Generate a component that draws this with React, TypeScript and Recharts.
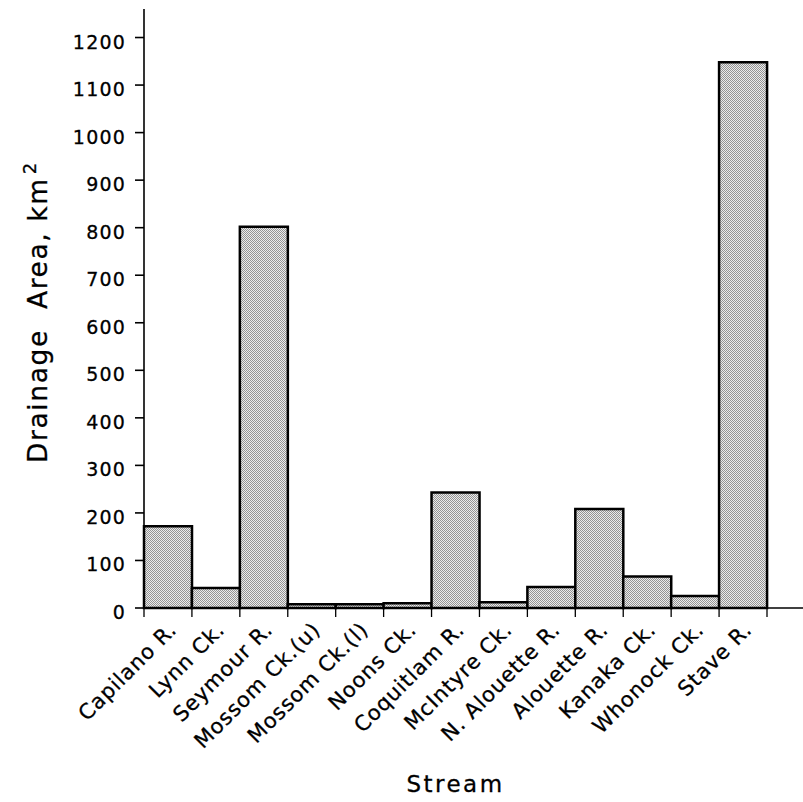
import React from 'react';
import { BarChart, Bar, XAxis, YAxis } from 'recharts';

const streams = [
  'Capilano R.', 'Lynn Ck.', 'Seymour R.', 'Mossom Ck.(u)', 'Mossom Ck.(l)', 'Noons Ck.',
  'Coquitlam R.', 'McIntyre Ck.', 'N. Alouette R.', 'Alouette R.', 'Kanaka Ck.', 'Whonock Ck.', 'Stave R.',
];
const areas = [172, 42, 802, 8, 8, 10, 243, 12, 44, 208, 66, 25, 1148];
const yTicks = [0, 100, 200, 300, 400, 500, 600, 700, 800, 900, 1000, 1100, 1200];

const data = streams.map((name, i) => ({ name, area: areas[i] }));

const FONT = '"DejaVu Sans", Verdana, sans-serif';

const YTick = (props: any) => {
  const { x, y, payload } = props;
  return (
    <text x={x + 1} y={y + 11} textAnchor="end" fontFamily={FONT} fontSize={19} letterSpacing={1.2} fill="#000" stroke="#000" strokeWidth={0.3}>
      {payload.value}
    </text>
  );
};

const XTick = (props: any) => {
  const { x, y, payload, index } = props;
  const off = payload && payload.offset ? payload.offset : 24;
  const last = index === streams.length - 1;
  return (
    <g>
      <line x1={x - off} y1={y} x2={x - off} y2={y + 9} stroke="#000" strokeWidth={1.3} />
      {last && <line x1={x + off} y1={y} x2={x + off} y2={y + 9} stroke="#000" strokeWidth={1.3} />}
      <text
        transform={`translate(${x + 10},${y + 23}) rotate(-45)`}
        textAnchor="end"
        fontFamily={FONT}
        fontSize={21}
        letterSpacing={0.9}
        fill="#000"
        stroke="#000"
        strokeWidth={0.3}
      >
        {payload.value}
      </text>
    </g>
  );
};

const XLabel = (props: any) => {
  const vb = props.viewBox || {};
  const cx = vb.x + (vb.width - 36) / 2;
  return (
    <text x={cx} y={792} textAnchor="middle" fontFamily={FONT} fontSize={23} letterSpacing={2.5} fill="#000" stroke="#000" strokeWidth={0.3}>
      Stream
    </text>
  );
};

const YLabel = (props: any) => {
  const vb = props.viewBox || {};
  const bottom = vb.y + vb.height - 145;
  return (
    <text
      transform={`translate(47,${bottom}) rotate(-90)`}
      textAnchor="start"
      fontFamily={FONT}
      fontSize={26.5}
      letterSpacing={1.6}
      fill="#000"
      stroke="#000"
      strokeWidth={0.3}
      style={{ whiteSpace: 'pre' }}
    >
      {'Drainage  Area, km'}
      <tspan fontSize={18} dy={-11} dx={3}>2</tspan>
    </text>
  );
};

export default function App() {
  return (
    <div style={{ position: 'absolute', left: 0, top: 0, width: 803, height: 802, background: '#fff' }}>
      <BarChart
        width={803}
        height={802}
        data={data}
        margin={{ top: 9, right: 0, bottom: 0, left: 0 }}
        barCategoryGap={0}
        barGap={0}
      >
        <defs>
          <pattern id="stipple" width="2" height="2" patternUnits="userSpaceOnUse">
            <rect x="0" y="0" width="2" height="2" fill="#ebebeb" />
            <rect x="0" y="0" width="1" height="1" fill="#939393" />
            <rect x="1" y="1" width="1" height="1" fill="#939393" />
          </pattern>
        </defs>
        <XAxis
          dataKey="name"
          type="category"
          interval={0}
          height={194}
          tickLine={false}
          tickSize={0}
          tickMargin={0}
          padding={{ left: 0, right: 36 }}
          axisLine={{ stroke: '#000', strokeWidth: 1.6 }}
          tick={<XTick />}
          label={<XLabel />}
        />
        <YAxis
          type="number"
          domain={[0, 1260]}
          ticks={yTicks}
          interval={0}
          width={144}
          tickLine={{ stroke: '#000', strokeWidth: 1.6 }}
          tickSize={9}
          tickMargin={10}
          axisLine={{ stroke: '#000', strokeWidth: 1.6 }}
          tick={<YTick />}
          label={<YLabel />}
        />
        <Bar dataKey="area" fill="url(#stipple)" stroke="#000" strokeWidth={2.5} isAnimationActive={false} />
      </BarChart>
    </div>
  );
}
